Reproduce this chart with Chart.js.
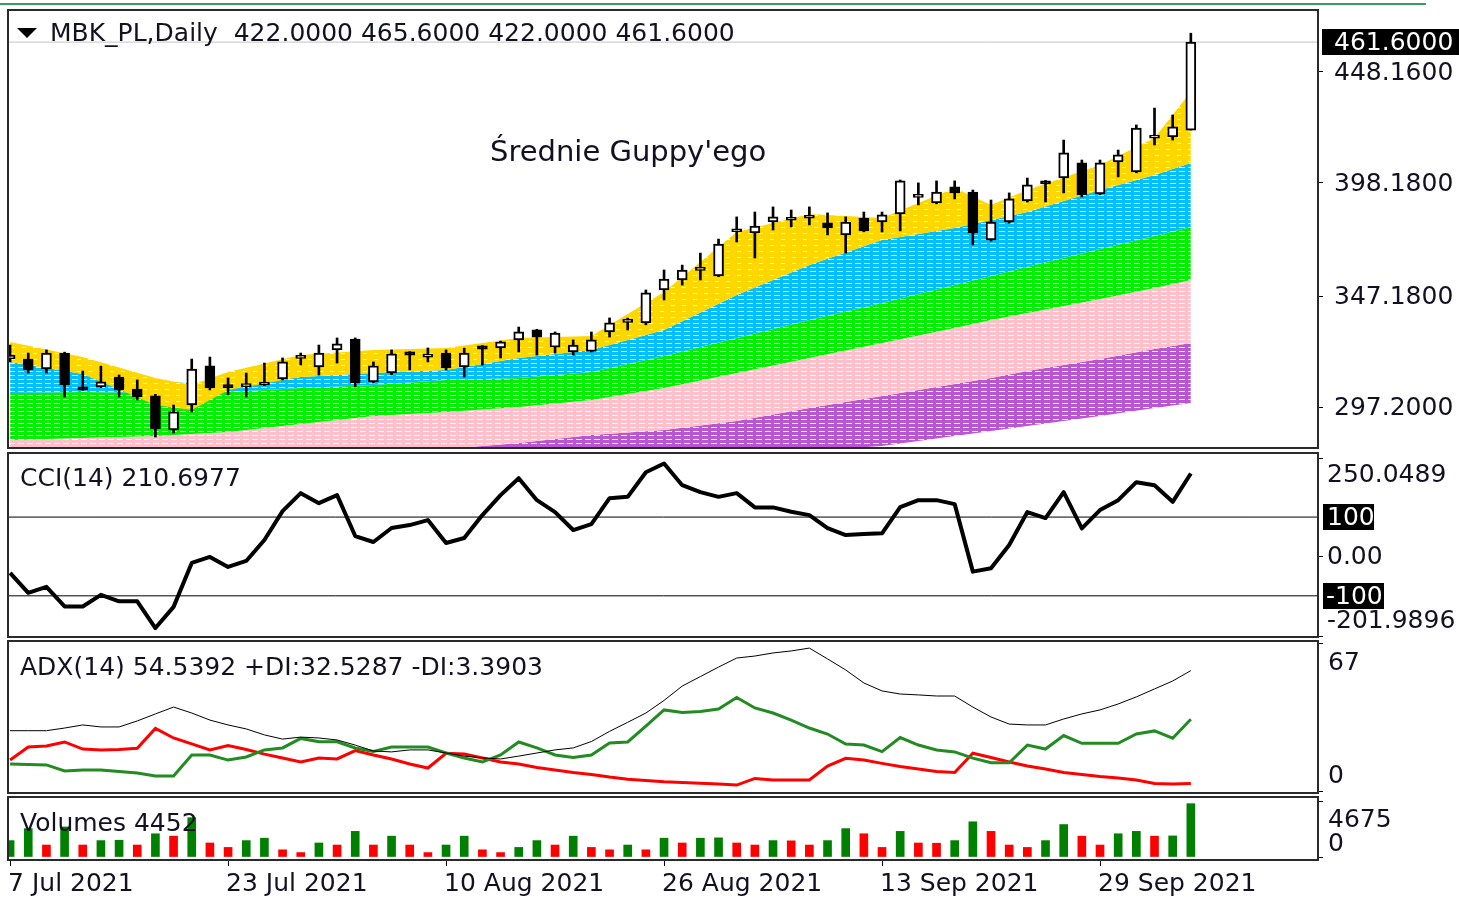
<!DOCTYPE html>
<html>
<head>
<meta charset="utf-8">
<script src="https://cdn.jsdelivr.net/npm/chart.js@4.4.1/dist/chart.umd.min.js"></script>
<style>
  html, body { margin: 0; padding: 0; background: #fff; }
  #wrap { position: relative; width: 1459px; height: 899px; overflow: hidden; }
  #wrap canvas { position: absolute; left: 0; top: 0; }
  #topline { position: absolute; left: 0; top: 3px; width: 1426px; height: 2px; background: #3a9a62; }
</style>
</head>
<body>
<div id="wrap">
  <div id="topline"></div>
  <canvas id="price" width="1459" height="899"></canvas>
  <canvas id="cci" width="1459" height="899"></canvas>
  <canvas id="adx" width="1459" height="899"></canvas>
  <canvas id="vol" width="1459" height="899"></canvas>
</div>
<script>
// MBK_PL daily: candles + Guppy ribbons, CCI(14), ADX(14), Volumes — MT4 look.

// ── data ──
const TICK_INDEX = [0, 12, 24, 36, 48, 60];
const TICK_LABELS = ['7 Jul 2021', '23 Jul 2021', '10 Aug 2021', '26 Aug 2021', '13 Sep 2021', '29 Sep 2021'];

const OPEN  = [318.9, 318.9, 314.4, 321.6, 306.3, 306.3, 310.8, 305.4, 302.3, 287.0,
               298.2, 315.8, 306.2, 306.5, 307.2, 309.9, 319.2, 315.3, 323.0, 327.9,
               308.6, 312.6, 322.1, 319.8, 321.6, 315.3, 324.8, 323.9, 327.5, 332.0,
               324.3, 322.1, 322.3, 331.1, 335.4, 335.2, 350.0, 354.5, 358.8, 356.3,
               376.2, 375.7, 380.6, 381.4, 382.3, 380.2, 374.8, 382.4, 380.6, 384.2,
               391.7, 389.2, 396.4, 394.1, 372.5, 380.6, 390.1, 399.1, 400.4, 407.2,
               393.2, 407.6, 403.1, 418.4, 418.9, 422.0];
const HIGH  = [325.2, 321.6, 323.0, 322.0, 313.5, 315.8, 311.7, 309.5, 303.0, 298.2,
               318.9, 319.8, 310.4, 312.6, 317.1, 319.4, 321.6, 325.2, 328.4, 328.4,
               317.6, 323.0, 322.3, 323.9, 323.0, 323.9, 325.0, 327.0, 333.3, 332.3,
               331.1, 327.5, 331.1, 337.4, 337.4, 350.0, 359.0, 361.2, 366.6, 372.9,
               382.9, 385.1, 387.4, 386.0, 387.4, 384.7, 382.9, 385.1, 385.1, 399.5,
               398.2, 399.1, 399.1, 395.0, 390.5, 393.7, 400.4, 399.3, 417.5, 408.5,
               408.5, 413.0, 424.3, 431.9, 428.8, 465.6];
const LOW   = [317.6, 312.6, 312.6, 301.8, 304.8, 306.0, 301.8, 300.5, 283.8, 285.6,
               295.1, 305.0, 302.7, 301.8, 307.0, 309.5, 316.2, 311.7, 317.1, 306.3,
               308.1, 311.7, 314.0, 317.6, 314.0, 310.8, 316.2, 319.4, 322.1, 320.7,
               321.6, 320.7, 322.1, 328.8, 332.0, 334.3, 345.5, 352.2, 354.5, 356.0,
               371.6, 364.4, 377.0, 378.4, 379.3, 374.8, 366.6, 376.2, 376.1, 376.6,
               388.3, 388.8, 391.0, 370.3, 372.0, 380.0, 389.6, 389.6, 393.7, 391.9,
               392.8, 400.9, 402.7, 415.3, 417.5, 422.0];
const CLOSE = [320.7, 314.0, 321.6, 307.2, 305.0, 308.6, 305.0, 301.8, 287.4, 295.1,
               314.4, 305.9, 306.0, 306.8, 308.1, 317.6, 319.6, 321.6, 325.7, 308.1,
               315.8, 321.2, 320.7, 320.0, 314.9, 321.6, 323.4, 326.6, 331.1, 328.8,
               330.6, 325.2, 327.5, 335.2, 335.8, 348.7, 354.9, 359.0, 359.2, 370.7,
               376.6, 378.8, 382.9, 381.6, 382.5, 377.9, 380.6, 376.6, 383.8, 399.1,
               391.9, 394.1, 393.7, 375.7, 380.6, 391.0, 397.3, 397.7, 411.7, 392.8,
               407.2, 410.8, 422.9, 418.6, 423.4, 461.6];

// Guppy ribbon edges, sampled at these bar indices
const BAND_X      = [0, 4, 8, 10, 12, 16, 20, 24, 28, 32, 36, 40, 44, 48, 52, 54, 56, 60, 63, 65];
const YELLOW_TOP  = [326.6, 319.8, 310.4, 307.2, 313.1, 320.7, 323.0, 323.9, 328.4, 329.3, 349.1, 376.1, 384.2, 382.4, 395.9, 388.3, 395.0, 406.3, 418.4, 439.2];
const YELLOW_BOT  = [317.6, 312.2, 298.2, 296.0, 305.0, 310.8, 312.6, 314.0, 319.4, 323.0, 332.0, 347.7, 361.2, 372.5, 377.9, 381.5, 385.1, 395.0, 401.8, 407.2];
const BLUE_TOP    = [317.6, 312.2, 308.6, 308.1, 308.1, 310.8, 312.6, 314.0, 319.4, 323.0, 332.0, 347.7, 361.2, 372.5, 377.9, 381.5, 385.1, 395.0, 401.8, 407.2];
const BLUE_BOT    = [303.6, 304.1, 303.6, 303.6, 304.1, 305.9, 307.2, 309.5, 310.4, 313.1, 320.3, 328.4, 336.5, 344.1, 352.2, 356.3, 360.4, 368.5, 374.3, 378.4];
const GREEN_BOT   = [282.4, 283.4, 284.3, 285.2, 286.1, 289.7, 293.3, 295.1, 297.3, 300.5, 305.9, 312.6, 319.4, 326.1, 332.9, 336.5, 339.6, 345.9, 350.9, 354.5];
const PINK_BOT    = [272.5, 273.4, 274.3, 274.8, 275.2, 276.1, 277.5, 278.4, 281.1, 284.7, 287.0, 291.0, 296.9, 302.3, 307.7, 310.4, 313.5, 318.9, 323.4, 326.1];
const PURPLE_BOT  = [264.4, 265.3, 266.2, 266.7, 267.1, 268.0, 268.9, 269.8, 270.7, 272.5, 273.9, 275.7, 277.5, 279.8, 284.2, 286.5, 288.8, 293.3, 296.9, 299.1];

const PRICE_TICKS = [297.2, 347.18, 398.18, 448.16];

const CCI = [-41.8, -92.4, -77.2, -127, -127, -97.5, -114, -114, -181.8, -128,
             -16.5, -1.3, -26.6, -11.4, 41.8, 115, 160.8, 135.4, 155.7, 51.9,
             36.7, 72.2, 79.7, 92.4, 34.2, 46.8, 105, 155.7, 198.7, 143,
             112.7, 67.1, 82.3, 148, 151.4, 214, 236, 181, 163.3, 151.4,
             160.8, 124.6, 124.6, 113.4, 105, 72.2, 54.4, 57, 58.7, 125.3,
             143, 143, 132.9, -38.5, -29.9, 29.1, 112.7, 97.5, 163.3, 71.4,
             117.7, 143, 188.6, 181, 138.7, 210.7];
const CCI_MIN = -201.9896, CCI_MAX = 250.0489;

const ADX = [27.3, 27.3, 27.3, 28.5, 29.9, 29.0, 29.0, 31.7, 34.9, 38.0,
             35.3, 32.1, 29.9, 28.1, 25.4, 23.5, 24.4, 24.0, 23.1, 20.8,
             18.1, 17.7, 18.6, 18.6, 17.2, 15.8, 15.0, 14.5, 15.8, 17.2,
             18.6, 19.5, 22.4, 27.0, 31.1, 35.3, 41.0, 47.5, 51.8, 56.1,
             60.2, 61.1, 62.5, 63.4, 64.7, 59.8, 54.8, 48.9, 45.3, 43.9,
             43.5, 43.0, 43.0, 38.0, 33.5, 30.3, 29.9, 29.9, 32.6, 34.9,
             36.7, 39.4, 42.6, 46.2, 49.8, 54.5];
const PLUS_DI = [12.2, 12.0, 11.8, 9.1, 9.5, 9.5, 8.8, 8.1, 6.8, 6.8,
                 16.3, 16.3, 14.0, 15.4, 18.6, 19.5, 23.8, 22.3, 22.3, 19.5,
                 17.9, 19.9, 19.9, 19.9, 17.2, 14.9, 13.1, 16.3, 22.2, 19.5,
                 16.3, 15.2, 16.3, 21.7, 22.2, 29.4, 36.7, 35.5, 36.0, 37.1,
                 42.3, 37.6, 35.3, 32.1, 28.5, 25.8, 21.3, 20.8, 17.8, 24.2,
                 20.8, 18.6, 17.7, 14.9, 12.8, 12.8, 20.8, 19.0, 25.1, 21.6,
                 21.6, 21.6, 25.8, 27.2, 23.9, 32.5];
const MINUS_DI = [14.0, 19.9, 20.4, 22.2, 19.0, 18.6, 18.8, 19.3, 28.3, 24.0,
                  21.3, 18.6, 20.6, 18.8, 16.7, 14.9, 13.1, 14.9, 14.5, 18.3,
                  16.3, 14.5, 12.2, 10.4, 17.1, 16.7, 14.9, 13.1, 12.2, 10.6,
                  9.5, 8.4, 7.5, 6.3, 5.3, 4.8, 4.2, 3.8, 3.5, 3.2,
                  2.7, 5.7, 5.0, 5.0, 5.0, 11.3, 14.8, 14.0, 12.5, 11.1,
                  10.0, 8.8, 8.4, 17.1, 15.2, 13.1, 11.3, 10.0, 8.4, 7.5,
                  6.6, 5.9, 5.0, 3.4, 3.2, 3.4];

const VOLUME = [1370, 2370, 1000, 2510, 1000, 1370, 1400, 1000, 1940, 1740,
                3280, 1170, 800, 1370, 1570, 600, 370, 1170, 1000, 2140,
                1000, 1740, 1000, 370, 1000, 1740, 600, 370, 800, 1370,
                1000, 1740, 800, 600, 1000, 600, 1570, 1170, 1570, 1600,
                1170, 1000, 1370, 1350, 1000, 1370, 2370, 1940, 800, 2140,
                1170, 1150, 1370, 2940, 2140, 1000, 800, 1370, 2710, 1740,
                1000, 1940, 2140, 1740, 1760, 4452];
const VOL_MAX = 4675;

// ── look ──
const FONT = '"DejaVu Sans", "Liberation Sans", sans-serif';
const TEXT = '#111122';
const X_MIN = -0.06, X_MAX = 72;
Chart.defaults.font.family = FONT;

function stripes(color, w, h, dash) {
  const c = document.createElement('canvas');
  c.width = w; c.height = h;
  const g = c.getContext('2d');
  g.fillStyle = color; g.fillRect(0, 0, w, h);
  g.fillStyle = '#ffffff'; g.fillRect(0, h - 1, dash, 1);
  return g.createPattern(c, 'repeat');
}

function rightAxis(min, max, ticks) {
  return {
    position: 'right', min, max,
    afterFit: s => { s.width = 141; },
    afterBuildTicks: s => { s.ticks = ticks.map(v => ({ value: v })); },
    grid: { drawOnChartArea: false, drawTicks: true, tickLength: 5, color: '#000', offset: false },
    border: { display: false },
    ticks: { display: false },
  };
}
const hiddenX = { type: 'linear', min: X_MIN, max: X_MAX, offset: false, display: false };

function baseOptions(top, bottom, yScale, xScale) {
  return {
    responsive: false, animation: false, events: [],
    layout: { padding: { left: 9, right: 0, top, bottom } },
    plugins: { legend: { display: false }, tooltip: { enabled: false } },
    scales: { x: xScale || hiddenX, y: yScale },
  };
}

// frame, right-hand labels and panel captions
function decor(cfg) {
  return {
    id: 'decor',
    afterDraw(chart) {
      const ctx = chart.ctx, ys = chart.scales.y;
      ctx.save();
      ctx.strokeStyle = '#2a2a2a';
      ctx.lineWidth = 2;
      ctx.strokeRect(8, cfg.frame[0], 1310, cfg.frame[1] - cfg.frame[0]);
      ctx.font = '25px ' + FONT;
      ctx.textBaseline = 'middle';
      ctx.textAlign = 'left';
      for (const l of cfg.labels) {
        const py = Math.round(ys.getPixelForValue(l.value) + (l.dy || 0));
        if (l.box) {
          ctx.fillStyle = '#000';
          ctx.fillRect(l.box[0], py - 13, l.box[1] - l.box[0], 26);
          ctx.fillStyle = '#fff';
        } else {
          ctx.fillStyle = TEXT;
        }
        ctx.fillText(l.text, l.x, py + 1);
      }
      for (const t of cfg.texts) {
        ctx.font = (t.size || 25) + 'px ' + FONT;
        ctx.fillStyle = TEXT;
        ctx.fillText(t.text, t.x, t.y);
      }
      if (cfg.triangle) {
        ctx.fillStyle = '#000';
        ctx.beginPath();
        ctx.moveTo(17, 28); ctx.lineTo(37, 28); ctx.lineTo(27, 38);
        ctx.closePath(); ctx.fill();
      }
      ctx.restore();
    },
  };
}

const pts = arr => arr.map((v, k) => ({ x: BAND_X[k], y: v }));
const series = arr => arr.map((v, i) => ({ x: i, y: v }));
const level = v => [{ x: -1, y: v }, { x: 80, y: v }];
const edge = (data, fill, bg, order) => ({
  type: 'line', data: pts(data), fill, backgroundColor: bg,
  borderColor: 'rgba(0,0,0,0)', borderWidth: 1, pointRadius: 0, tension: 0, order,
});

// ── price panel ──
const last = CLOSE[CLOSE.length - 1];
new Chart(document.getElementById('price'), {
  type: 'bar',
  data: {
    datasets: [
      { // 0 bodies
        data: OPEN.map((o, i) => ({ x: i, y: [Math.min(o, CLOSE[i]), Math.max(o, CLOSE[i])] })),
        backgroundColor: OPEN.map((o, i) => CLOSE[i] >= o ? '#ffffff' : '#000000'),
        borderColor: '#000', borderWidth: 2, borderSkipped: false,
        barThickness: 10, minBarLength: 3, grouped: false, order: 0,
      },
      { // 1 wicks
        data: LOW.map((l, i) => ({ x: i, y: [l, HIGH[i]] })),
        backgroundColor: '#000', borderWidth: 0, barThickness: 2, grouped: false, order: 1,
      },
      { // 2 last price line
        type: 'line', data: level(last), borderColor: '#c4c4c4', borderWidth: 1,
        pointRadius: 0, fill: false, order: 2,
      },
      edge(YELLOW_TOP, 4, stripes('#ffd700', 11, 6, 4), 3),   // 3
      edge(YELLOW_BOT, false, undefined, 3),                    // 4
      edge(BLUE_TOP, 6, stripes('#00bfff', 9, 4, 6), 4),      // 5
      edge(BLUE_BOT, 7, stripes('#00f000', 9, 4, 6), 5),      // 6
      edge(GREEN_BOT, 8, stripes('#ffc0cb', 9, 4, 6), 6),     // 7
      edge(PINK_BOT, 9, stripes('#ba55d3', 9, 4, 6), 7),      // 8
      edge(PURPLE_BOT, false, undefined, 8),                    // 9
    ],
  },
  options: baseOptions(11, 899 - 447, rightAxis(279.3, 475.6, PRICE_TICKS)),
  plugins: [decor({
    frame: [10, 448],
    labels: PRICE_TICKS.map(v => ({ value: v, text: v.toFixed(4), x: 1334 }))
      .concat([{ value: last, text: last.toFixed(4), x: 1334, box: [1322, 1459] }]),
    texts: [
      { text: 'MBK_PL,Daily  ' + OPEN[65].toFixed(4) + ' ' + HIGH[65].toFixed(4) + ' ' +
              LOW[65].toFixed(4) + ' ' + last.toFixed(4), x: 50, y: 34 },
      { text: 'Średnie Guppy\'ego', x: 490, y: 153, size: 29 },
    ],
    triangle: true,
  })],
});

// ── CCI panel ──
new Chart(document.getElementById('cci'), {
  type: 'line',
  data: {
    datasets: [
      { data: series(CCI), borderColor: '#000', borderWidth: 4, pointRadius: 0, tension: 0,
        borderJoinStyle: 'round', fill: false },
      { data: level(100), borderColor: '#000', borderWidth: 1, pointRadius: 0, fill: false },
      { data: level(-100), borderColor: '#000', borderWidth: 1, pointRadius: 0, fill: false },
    ],
  },
  options: baseOptions(458, 899 - 636, rightAxis(CCI_MIN, CCI_MAX, [CCI_MAX, 0, CCI_MIN])),
  plugins: [decor({
    frame: [453, 637],
    labels: [
      { value: CCI_MAX, dy: 16, text: CCI_MAX.toFixed(4), x: 1327 },
      { value: 0, text: '0.00', x: 1327 },
      { value: CCI_MIN, dy: -16, text: CCI_MIN.toFixed(4), x: 1327 },
      { value: 100, text: '100', x: 1327, box: [1323, 1374] },
      { value: -100, text: '-100', x: 1326, box: [1323, 1384] },
    ],
    texts: [{ text: 'CCI(14) ' + '210.6977', x: 20, y: 479 }],
  })],
});

// ── ADX panel ──
new Chart(document.getElementById('adx'), {
  type: 'line',
  data: {
    datasets: [
      { data: series(ADX), borderColor: '#000', borderWidth: 1, pointRadius: 0, tension: 0, fill: false },
      { data: series(PLUS_DI), borderColor: '#228b22', borderWidth: 3, pointRadius: 0, tension: 0, fill: false },
      { data: series(MINUS_DI), borderColor: '#ff0000', borderWidth: 3, pointRadius: 0, tension: 0, fill: false },
    ],
  },
  options: baseOptions(643, 899 - 791, rightAxis(0, 67, [67, 0])),
  plugins: [decor({
    frame: [641, 793],
    labels: [
      { value: 67, dy: 19, text: '67', x: 1328 },
      { value: 0, dy: -16, text: '0', x: 1328 },
    ],
    texts: [{ text: 'ADX(14) 54.5392 +DI:32.5287 -DI:3.3903', x: 20, y: 668 }],
  })],
});

// ── Volumes panel + date axis ──
new Chart(document.getElementById('vol'), {
  type: 'bar',
  data: {
    datasets: [{
      data: series(VOLUME),
      backgroundColor: VOLUME.map((v, i) => (i === 0 || v > VOLUME[i - 1]) ? '#008000' : '#ff0000'),
      borderWidth: 0, barThickness: 8, grouped: false,
    }],
  },
  options: baseOptions(801, 0, rightAxis(-250, VOL_MAX, [VOL_MAX, 0]), {
    type: 'linear', min: X_MIN, max: X_MAX, offset: false, position: 'bottom',
    afterBuildTicks: s => { s.ticks = TICK_INDEX.map(v => ({ value: v })); },
    afterFit: s => { s.height = 39; },
    grid: { drawOnChartArea: false, tickLength: 6, color: '#000', offset: false },
    border: { display: false },
    ticks: {
      align: 'start', autoSkip: false, maxRotation: 0, minRotation: 0, padding: 3, labelOffset: -2,
      color: TEXT, font: { family: FONT, size: 25 },
      callback: (v, i) => TICK_LABELS[i],
    },
  }),
  plugins: [decor({
    frame: [797, 860],
    labels: [
      { value: VOL_MAX, dy: 18, text: String(VOL_MAX), x: 1328 },
      { value: 0, dy: -14, text: '0', x: 1328 },
    ],
    texts: [{ text: 'Volumes ' + VOLUME[VOLUME.length - 1], x: 20, y: 824 }],
  })],
});
</script>
</body>
</html>
